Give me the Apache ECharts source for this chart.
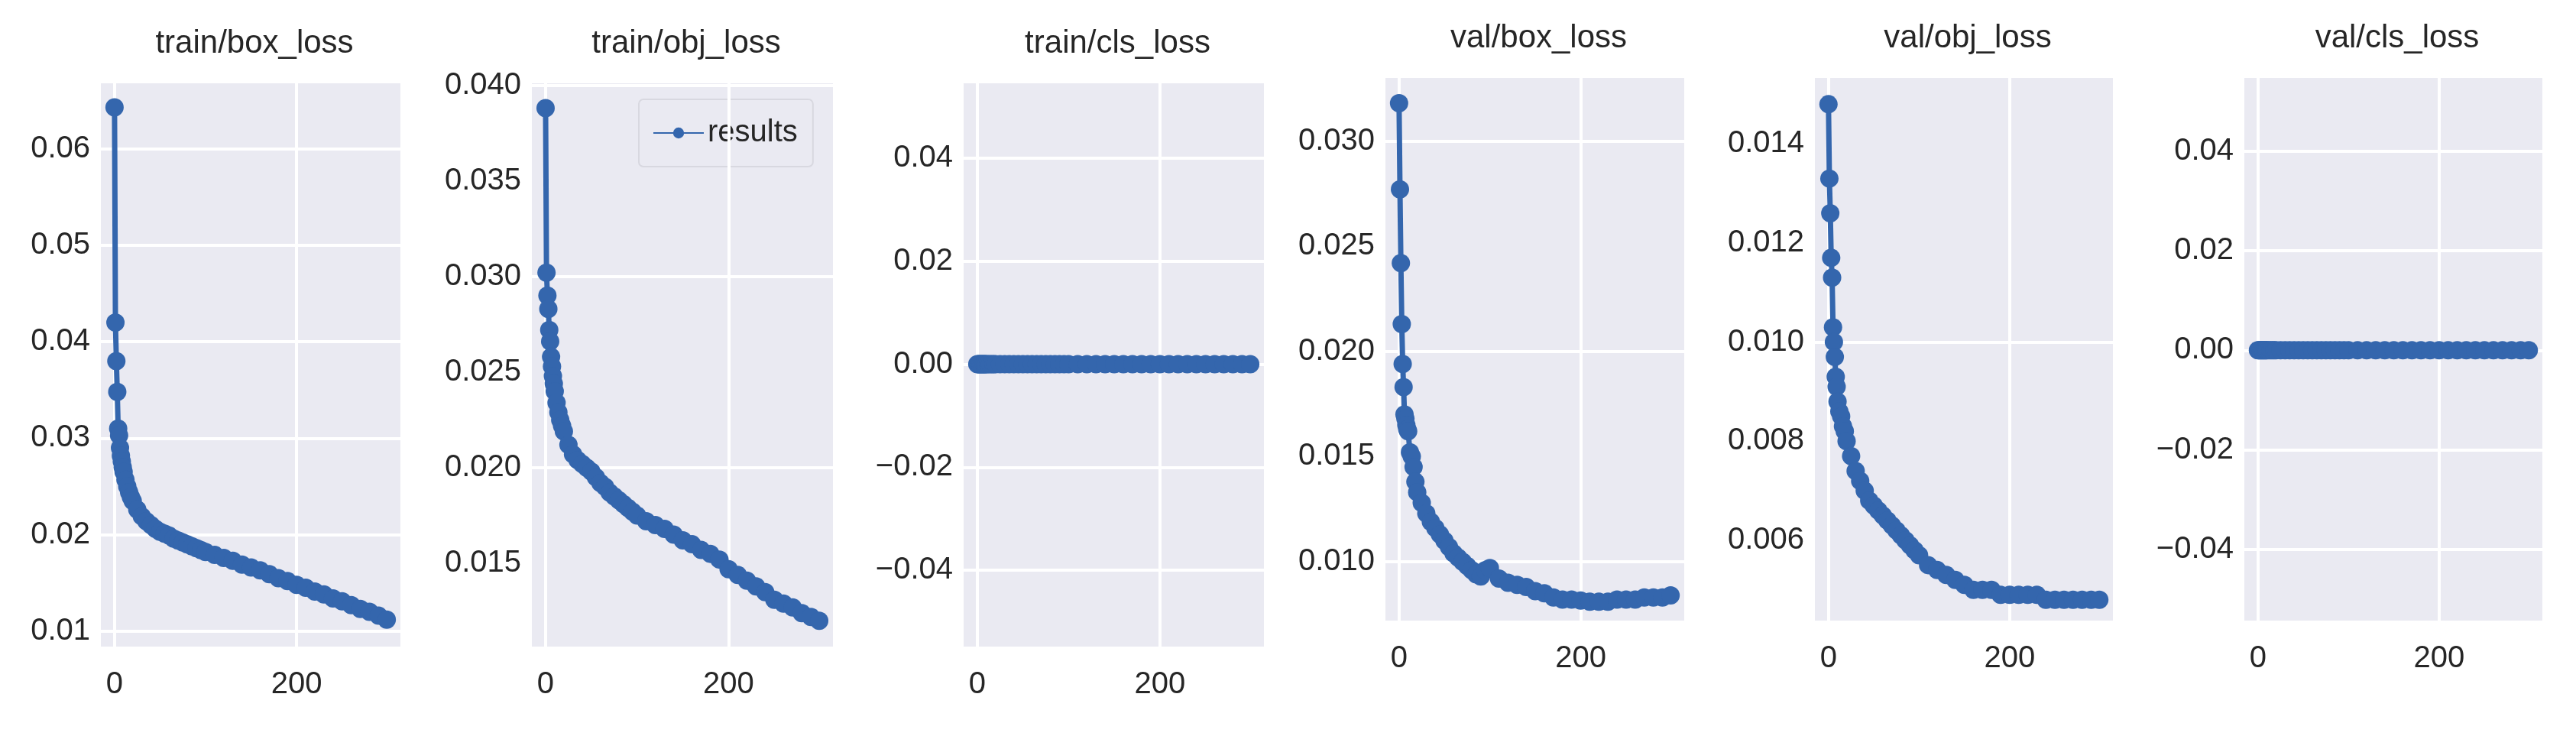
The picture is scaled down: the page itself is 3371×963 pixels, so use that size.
<!DOCTYPE html>
<html><head><meta charset="utf-8">
<script src="https://cdn.jsdelivr.net/npm/echarts@6/dist/echarts.min.js"></script>
<style>html,body{margin:0;padding:0;background:#fff}#c{width:3371px;height:963px}</style>
</head><body><div id="c"></div>
<script>
const epochs=[0,1,2,3,4,5,6,7,8,9,10,12,14,16,18,20,25,30,35,40,45,50,55,60,65,70,75,80,85,90,95,100,110,120,130,140,150,160,170,180,190,200,210,220,230,240,250,260,270,280,290,299];
const trainBox=[0.0643,0.0420,0.0380,0.0348,0.0310,0.0303,0.0290,0.0282,0.0276,0.0270,0.0265,0.0257,0.0250,0.0244,0.0239,0.0235,0.0226,0.0219,0.0214,0.0210,0.0206,0.0203,0.0201,0.0199,0.0196,0.0194,0.0192,0.0190,0.0188,0.0186,0.0184,0.0182,0.0179,0.0176,0.0173,0.0169,0.0166,0.0163,0.0159,0.0155,0.0152,0.0148,0.0145,0.0141,0.0138,0.0134,0.0131,0.0127,0.0123,0.0120,0.0116,0.0112];
const trainObj=[0.0388,0.0302,0.0290,0.0283,0.0272,0.0266,0.0258,0.0253,0.0248,0.0244,0.0240,0.0234,0.0229,0.0225,0.0222,0.0219,0.0212,0.0207,0.0204,0.0202,0.0200,0.0198,0.0195,0.0192,0.0190,0.0187,0.0185,0.0183,0.0181,0.0179,0.0177,0.0175,0.0172,0.0170,0.0168,0.0165,0.0162,0.0160,0.0157,0.0155,0.0152,0.0147,0.0144,0.0141,0.0138,0.0135,0.0131,0.0129,0.0127,0.0124,0.0122,0.0120];
const trainCls=epochs.map(()=>0);
const valBox=[0.0318,0.0277,0.0242,0.0213,0.0194,0.0183,0.0170,0.0168,0.0165,0.0163,0.0162,0.0152,0.0150,0.0145,0.0138,0.0133,0.0128,0.0123,0.0119,0.0116,0.0113,0.0110,0.0107,0.0104,0.0102,0.0100,0.0098,0.0096,0.0094,0.0093,0.0096,0.0097,0.0092,0.0090,0.0089,0.0088,0.0086,0.0085,0.0083,0.0082,0.0082,0.00815,0.0081,0.0081,0.0081,0.0082,0.0082,0.0082,0.0083,0.0083,0.0083,0.0084];
const valObj=[0.0148,0.0133,0.0126,0.0117,0.0113,0.0103,0.0100,0.0097,0.0093,0.0091,0.0088,0.0086,0.0085,0.0083,0.0082,0.0080,0.0077,0.0074,0.0072,0.0070,0.0068,0.0067,0.0066,0.0065,0.0064,0.0063,0.0062,0.0061,0.0060,0.0059,0.0058,0.0057,0.0055,0.0054,0.0053,0.0052,0.0051,0.0050,0.0050,0.0050,0.0049,0.0049,0.0049,0.0049,0.0049,0.0048,0.0048,0.0048,0.0048,0.0048,0.0048,0.0048];
const valCls=epochs.map(()=>0);
const titles=['train/box_loss','train/obj_loss','train/cls_loss','val/box_loss','val/obj_loss','val/cls_loss'];
const seriesData=[trainBox,trainObj,trainCls,valBox,valObj,valCls];
const xTicks=[0,200];
const yTicks=[[0.01,0.02,0.03,0.04,0.05,0.06],[0.015,0.020,0.025,0.030,0.035,0.040],[-0.04,-0.02,0,0.02,0.04],[0.010,0.015,0.020,0.025,0.030],[0.006,0.008,0.010,0.012,0.014],[-0.04,-0.02,0,0.02,0.04]];
const yDec=[2,3,2,3,3,2];
const yRange=[[0.0084,0.0668],[0.01065,0.0401],[-0.0548,0.0545],[0.0072,0.0330],[0.00438,0.01533],[-0.0543,0.0547]];
const boxes=[[132,109,524,846],[696,109,1090,846],[1261,109,1654,846],[1813,102,2204,812],[2375,102,2765,812],[2937,102,3327,812]];

const C='#3466ad', FONT='Liberation Sans';
const grid=[],xAxis=[],yAxis=[],series=[],title=[];
boxes.forEach((b,i)=>{
  grid.push({left:b[0],top:b[1],width:b[2]-b[0],height:b[3]-b[1],show:true,backgroundColor:'#eaeaf2',borderWidth:0});
  xAxis.push({type:'value',gridIndex:i,min:-15,max:314,axisLine:{show:false},axisTick:{show:false},splitLine:{show:false},
    axisLabel:{customValues:xTicks,fontFamily:FONT,fontSize:40,color:'#262626',margin:30}});
  yAxis.push({type:'value',gridIndex:i,min:yRange[i][0],max:yRange[i][1],axisLine:{show:false},axisTick:{show:false},splitLine:{show:false},
    axisLabel:{customValues:yTicks[i],fontFamily:FONT,fontSize:40,color:'#262626',margin:14,formatter:v=>v.toFixed(yDec[i]).replace('-','\u2212')}});
  title.push({text:titles[i],left:(b[0]+b[2])/2,top:b[1]-78,textAlign:'center',textStyle:{fontFamily:FONT,fontSize:42,fontWeight:'normal',color:'#262626'}});
  series.push({type:'line',xAxisIndex:i,yAxisIndex:i,data:[],silent:true,z:1,
    markLine:{silent:true,symbol:'none',label:{show:false},lineStyle:{color:'#ffffff',width:4,type:'solid'},
      data:[...xTicks.map(v=>({xAxis:v})),...yTicks[i].map(v=>({yAxis:v}))]}});
  series.push({type:'line',name:'results',xAxisIndex:i,yAxisIndex:i,z:5,data:epochs.map((e,k)=>[e,seriesData[i][k]]),
    symbol:'circle',symbolSize:24,showSymbol:true,lineStyle:{color:C,width:7},itemStyle:{color:C},animation:false});
});
const chart=echarts.init(document.getElementById('c'),null,{renderer:'canvas'});
chart.setOption({animation:false,backgroundColor:'#ffffff',title,grid,xAxis,yAxis,series,
  legend:{data:['results'],left:836,top:130,padding:[24,20,24,18],itemWidth:66,itemHeight:18,itemGap:14,
    backgroundColor:'#eaeaf2',borderColor:'#d8d8e0',borderWidth:2,borderRadius:6,
    textStyle:{fontFamily:FONT,fontSize:40,color:'#262626'}}});
</script></body></html>
